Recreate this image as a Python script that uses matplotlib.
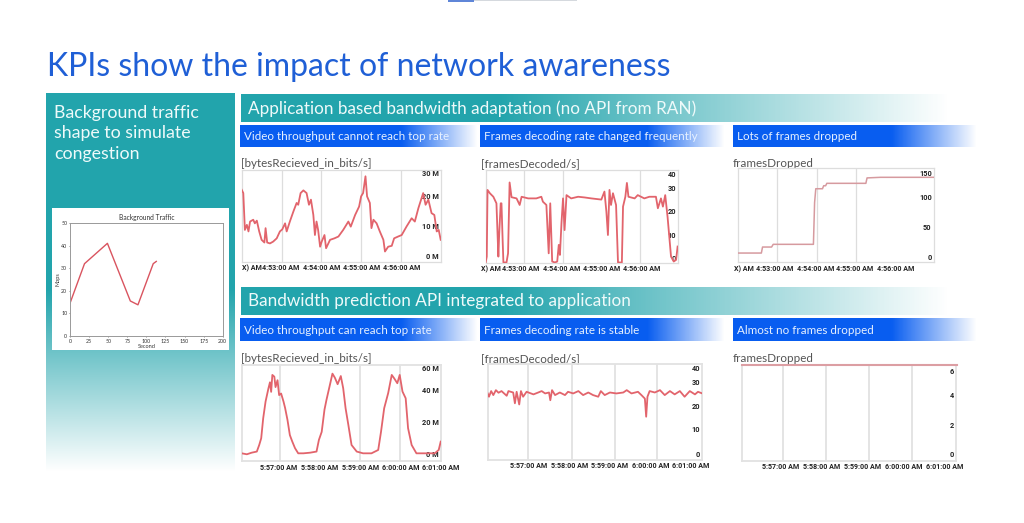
# KPI slide: background traffic panel and two rows of three small charts
import numpy as np
import matplotlib
matplotlib.use('Agg')
import matplotlib.pyplot as plt

W, H = 1024, 523
TEAL = (0.137, 0.647, 0.678)
BLUE = (0.035, 0.365, 0.945)
LINE_RED = '#e2646c'
GRID_GRAY = '#dddddd'

plt.rcParams['font.family'] = ['Lato', 'DejaVu Sans']

# Background traffic (second, Mbps)
bg_seconds = [0, 19, 49, 79, 89, 109, 113]
bg_mbps = [14.5, 32, 41, 15.5, 13.8, 32, 33]

# Top row, minutes after 4:52
bytes1_t = [0, .04, .08, .13, .17, .21, .29, .33, .38, .44, .50, .57, .60, .64, .71, .79, .88, .96,
            1.02, 1.09, 1.13, 1.21, 1.30, 1.38, 1.42, 1.48, 1.55, 1.63, 1.69, 1.74, 1.80, 1.84, 1.88, 1.92, 1.97,
            2.01, 2.08, 2.12, 2.22, 2.33, 2.43, 2.55, 2.68, 2.74, 2.85, 2.95,
            3.00, 3.05, 3.11, 3.15, 3.22, 3.26, 3.31, 3.39, 3.47, 3.56, 3.60, 3.68, 3.77, 3.83, 3.93,
            4.02, 4.14, 4.27, 4.35, 4.44, 4.56, 4.62, 4.69, 4.77, 4.84, 4.90, 4.95, 5.0]
bytes1_m = [22.1, 21.0, 8.7, 10.4, 8.2, 11.5, 12.1, 10.9, 11.8, 8.2, 5.4, 4.5, 9.3, 4.5, 4.2, 4.8, 5.9, 8.2,
            8.9, 10.9, 8.2, 11.5, 14.9, 17.7, 17.1, 21.0, 21.9, 21.0, 17.1, 18.8, 13.7, 7.0, 11.5, 8.7, 3.1,
            4.8, 7.0, 2.6, 5.4, 5.9, 6.5, 8.7, 11.5, 9.8, 13.7, 16.5,
            19.9, 21.0, 26.6, 19.9, 17.7, 9.3, 12.1, 10.9, 8.2, 5.4, 1.5, 3.1, 3.4, 5.9, 6.5,
            7.0, 9.8, 12.6, 11.5, 16.0, 21.0, 17.1, 18.8, 14.3, 13.7, 8.2, 8.7, 5.4]

decoded1_t = [0, .03, .05, .11, .20, .28, .33, .35, .39, .41, .44, .46, .54, .58, .62, .67, .80, .88, .93,
              1.10, 1.31, 1.44, 1.48, 1.57, 1.63, 1.67, 1.72, 1.79, 1.85, 1.89, 1.92, 1.96,
              2.0, 2.04, 2.09, 2.21, 2.39, 2.56, 2.73, 2.99,
              3.07, 3.12, 3.16, 3.20, 3.24, 3.29, 3.37, 3.42, 3.52, 3.55, 3.61, 3.65, 3.69, 3.85, 3.93,
              4.10, 4.23, 4.40, 4.45, 4.53, 4.58, 4.64, 4.70, 4.79, 4.86, 4.92, 4.96]
decoded1_v = [-1.9, .7, 29.1, 27.7, 26.2, 23.4, .7, 9.9, 23.4, 23.4, 7.8, -1.8, -1.8, 2.1, 32.3, 26.0, 25.5, 22.7, 26.2,
              25.5, 25.5, 26.2, 24.1, 22.7, 2.1, 23.4, -1.4, -1.8, -1.4, 5.7, 1.4, 15,
              25.5, 12, 26.9, 25.5, 26.2, 25.9, 25.5, 25.0,
              28.4, 19.9, 9.9, 29.1, 22.7, 27.7, 22.7, -1.8, -1.8, 22, 26.2, 32.1, 26.2, 25.5, 26.9,
              25.5, 26.2, 26.2, 21.3, 25.5, 22, 26.9, 17.7, .7, -1.4, -.7, 5]

dropped1_t = [0, .60, .63, .86, .90, 1.92, 1.95, 1.98, 2.15, 2.18, 2.23, 2.26, 3.25, 3.28, 3.62, 5.0]
dropped1_v = [6, 6, 16, 16, 20.5, 20.5, 90, 113, 113, 118, 118, 122, 122, 131, 132, 132]

# Bottom row, minutes after 5:56
bytes2_t = [0, .13, .25, .38, .44, .49, .54, .6, .67, .71, .74, .77, .82, .85, .9, .94, .99,
            1.05, 1.09, 1.15, 1.21, 1.27, 1.34, 1.42, 1.55, 1.72, 1.88, 1.94,
            2.01, 2.08, 2.13, 2.22, 2.28, 2.34, 2.41, 2.49, 2.55, 2.61, 2.68, 2.76, 2.89,
            3.05, 3.26, 3.43, 3.5, 3.58, 3.68, 3.77, 3.83, 3.91, 3.97,
            4.04, 4.12, 4.18, 4.27, 4.39, 4.56, 4.73, 4.85, 4.95, 5.0]
bytes2_m = [.6, 0, 1, 1.7, 5.8, 10, 22.5, 33, 41, 45, 39, 49.6, 48.5, 42, 46.3, 37, 38,
            33, 29, 21.5, 12, 8, 3.8, .6, .6, 1, 1.7, 9,
            14, 27.9, 34, 43.8, 50.4, 47.9, 43.8, 48.9, 41.3, 28.8, 18.3, 5.8, 1.7,
            .6, .6, 2.7, 14, 28.8, 38.2, 49.6, 47.5, 44.4, 49.6,
            39.2, 35, 16.3, 5.8, .6, .6, .6, .6, 2.7, 7.9]

decoded2_t = [0, .03, .08, .13, .19, .25, .32, .44, .48, .59, .63, .67, .73, .77, .82, .90,
              1.06, 1.17, 1.25, 1.33, 1.42, 1.45, 1.49, 1.56, 1.67, 1.79, 1.86, 1.98,
              2.10, 2.21, 2.33, 2.44, 2.56, 2.62, 2.71, 2.83, 2.98,
              3.14, 3.22, 3.33, 3.48, 3.56, 3.64, 3.67, 3.70, 3.75, 3.87, 3.99,
              4.10, 4.22, 4.33, 4.45, 4.56, 4.68, 4.80, 4.87, 4.97]
decoded2_v = [25.2, 23.8, 26.2, 24.5, 26.6, 25.5, 26.2, 24.2, 26.2, 25.6, 21, 25.9, 20.5, 26.2, 23.8, 25.9,
              24.8, 25.6, 26.2, 25.2, 25.6, 22.3, 26.6, 24.5, 25.6, 24.5, 25.9, 25.2,
              26.2, 24.5, 25.6, 24.5, 23.8, 26.2, 24.5, 25.6, 25.2,
              25.6, 26.6, 25.2, 25.9, 24.5, 23, 15.3, 23.8, 26.2, 25.6, 26.6,
              24.5, 26.2, 24.8, 26.2, 23.8, 26.2, 24.8, 25.9, 25.2]

dropped2_t = [0, 5]
dropped2_v = [6, 6]

# Axis labels: grid minutes, where the time labels sit, and the value labels
row1_times = ['4:53:00 AM', '4:54:00 AM', '4:55:00 AM', '4:56:00 AM']
row2_times = ['5:57:00 AM', '5:58:00 AM', '5:59:00 AM', '6:00:00 AM', '6:01:00 AM']
ylabels_bytes1 = ['0 M', '10 M', '20 M', '30 M']
ylabels_frames = ['0', '10', '20', '30', '40']
ylabels_drop1 = ['0', '50', '100', '150']
ylabels_bytes2 = ['0 M', '20 M', '40 M', '60 M']
ylabels_drop2 = ['0', '2', '4', '6']

fig = plt.figure(figsize=(W / 100, H / 100), dpi=100, facecolor='white')

# Full figure axes in pixel coordinates for the slide furniture
bg = fig.add_axes([0, 0, 1, 1])
bg.set_xlim(0, W)
bg.set_ylim(H, 0)
bg.axis('off')


def hfade(x0, x1, y0, y1, color, solid):
    # Horizontal bar, solid up to x = solid and fading to white at x1
    xs = np.linspace(x0, x1, 300)
    img = np.ones((1, 300, 4))
    img[0, :, :3] = color
    img[0, :, 3] = np.clip((x1 - xs) / (x1 - solid), 0, 1)
    bg.imshow(img, extent=(x0, x1, y1, y0), aspect='auto', interpolation='bilinear')


def vfade(x0, x1, y0, y1, color, solid):
    ys = np.linspace(y0, y1, 300)
    img = np.ones((300, 1, 4))
    img[:, 0, :3] = color
    img[:, 0, 3] = np.clip((y1 - ys) / (y1 - solid), 0, 1)
    bg.imshow(img, extent=(x0, x1, y1, y0), aspect='auto', interpolation='bilinear')


# Scrap of the slide above at the very top
bg.add_patch(plt.Rectangle((448, 0), 26, 1.5, color='#5f86d8', lw=0))
bg.add_patch(plt.Rectangle((474, 0), 103, 1, color='#d5d9de', lw=0))

bg.text(47, 76, 'KPIs show the impact of network awareness', fontsize=23,
        color='#1f5fd6', va='baseline')

# Left panel
vfade(46, 235, 93, 472, TEAL, 290)
for i, line in enumerate(['Background traffic', 'shape to simulate', 'congestion']):
    bg.text(54, 118 + i * 20.3, line, fontsize=12.8, color='#eefafa', va='baseline')
bg.add_patch(plt.Rectangle((52, 208), 177, 142, color='white', lw=0))

# Section headers
hfade(241, 950, 94, 122, TEAL, 500)
hfade(241, 950, 287, 315, TEAL, 500)
bg.text(248, 114, 'Application based bandwidth adaptation (no API from RAN)', fontsize=12.3,
        color='#eefafa', va='baseline')
bg.text(248, 306, 'Bandwidth prediction API integrated to application', fontsize=12.3,
        color='#eefafa', va='baseline')

# Blue strips and their captions
strip_x = [(240, 478, 402), (480, 725, 648), (733, 977, 892)]
strip_y = [(125, 147, 140), (318, 341, 334)]
captions = [['Video throughput cannot reach top rate', 'Frames decoding rate changed frequently', 'Lots of frames dropped'],
            ['Video throughput can reach top rate', 'Frames decoding rate is stable', 'Almost no frames dropped']]
chart_titles = ['[bytesRecieved_in_bits/s]', '[framesDecoded/s]', 'framesDropped']
for r, (y0, y1, base) in enumerate(strip_y):
    for c, (x0, x1, solid) in enumerate(strip_x):
        hfade(x0, x1, y0, y1, BLUE, solid)
        bg.text(x0 + 4, base, captions[r][c], fontsize=8.4, color='#e6f0ff', va='baseline')
        bg.text(x0 + 1 if c < 2 else x0, [167, 362][r], chart_titles[c], fontsize=8.4,
                color='#555555', va='baseline')

bg.set_xlim(0, W)
bg.set_ylim(H, 0)


def pixel_axes(left, top, right, bottom):
    return fig.add_axes([left / W, 1 - bottom / H, (right - left) / W, (bottom - top) / H])


# Background traffic chart
ax = pixel_axes(70, 223, 222.7, 336)
ax.plot(bg_seconds, bg_mbps, color='#d9545f', lw=1.0)
ax.set_xlim(0, 200)
ax.set_ylim(0, 50)
ax.set_xticks(range(0, 201, 25))
ax.set_yticks(range(0, 51, 10))
ax.tick_params(labelsize=3.8, length=1, width=0.4, pad=1, colors='#333333')
ax.set_title('Background Traffic', fontsize=4.8, pad=2, color='#333333')
ax.set_xlabel('Second', fontsize=4, labelpad=0.5, color='#333333')
ax.set_ylabel('Mbps', fontsize=4, labelpad=0.5, color='#333333')
for s in ax.spines.values():
    s.set_color('#999999')
    s.set_linewidth(0.7)


def small_chart(box, t, v, xmax, ylim, grid, label_t, times, ytick_pos, ylabels,
                color=LINE_RED, lw=1.3, edge=GRID_GRAY, edge_w=0.9, clip=True, left_label=None):
    ax = pixel_axes(*box)
    ax.plot(t, v, color=color, lw=lw, clip_on=clip, solid_joinstyle='round', zorder=3)
    ax.set_xlim(0, xmax)
    ax.set_ylim(*ylim)
    ax.set_xticks(grid, minor=True)
    ax.grid(which='minor', axis='x', color=edge, lw=edge_w)
    ax.tick_params(which='minor', length=0)
    ax.set_xticks(label_t)
    ax.set_xticklabels(times, fontsize=5.1, fontweight='bold', family='Roboto', color='#222222')
    ax.tick_params(axis='x', which='major', length=0, pad=2)
    ax.yaxis.tick_right()
    ax.set_yticks(ytick_pos)
    ax.set_yticklabels(ylabels, fontsize=5.3, fontweight='bold', family='Roboto', color='#222222', ha='right')
    ax.tick_params(axis='y', length=0, pad=-1.5)
    ax.patch.set_alpha(0)
    for s in ax.spines.values():
        s.set_color(edge)
        s.set_linewidth(edge_w)
    if left_label is not None:
        ax.annotate('X) AM', xy=(0, 0), xycoords='axes fraction', xytext=(left_label, -2),
                    textcoords='offset points', fontsize=5.1, fontweight='bold', family='Roboto',
                    color='#222222', ha='left', va='top')
    return ax


small_chart((241.7, 170, 440.7, 261.7), bytes1_t, bytes1_m, 5, (-1.9, 28.7), [1, 2, 3, 4],
            [.99, 2.01, 3.02, 4.03], row1_times, [0, 10, 20, 27.6], ylabels_bytes1, left_label=0)
small_chart((485.6, 170, 678, 262.7), decoded1_t, decoded1_v, 4.97, (-1.9, 37.6), [1, 2, 3, 4],
            [.90, 1.96, 3.0, 4.02], row1_times, [0, 10, 20, 30, 35.9], ylabels_frames, left_label=-3.5)
small_chart((737.7, 168.3, 933.7, 262.3), dropped1_t, dropped1_v, 4.97, (-9.4, 147), [1, 2, 3, 4],
            [.95, 1.97, 2.97, 4.0], row1_times, [0, 50, 100, 139], ylabels_drop1,
            color='#d69a9f', lw=1.1, left_label=-2.5)

small_chart((241.7, 365, 440.7, 461), bytes2_t, bytes2_m, 5, (-4.2, 55.8), [.96, 1.96, 2.97, 3.97],
            [.94, 1.96, 2.98, 3.99, 5.0], row2_times, [0, 20, 40, 53.8], ylabels_bytes2,
            edge='#e2e2e2', edge_w=1.3)
small_chart((487.7, 364.3, 702.3, 459.7), decoded2_t, decoded2_v, 4.97, (-3.0, 37.6), [.93, 1.95, 2.94, 3.93],
            [.94, 1.89, 2.83, 3.77, 4.71], row2_times, [-0.7, 10, 20, 30, 35.9], ylabels_frames,
            edge='#e2e2e2', edge_w=1.3)
small_chart((741.7, 365, 956.3, 460.7), dropped2_t, dropped2_v, 4.99, (-0.43, 6), [.95, 1.95, 2.96, 3.96],
            [.91, 1.86, 2.81, 3.76, 4.71], row2_times, [0, 2, 4, 5.6], ylabels_drop2,
            color='#dc9ea3', lw=1.5, edge='#e2e2e2', edge_w=1.3, clip=False)

fig.savefig('out.png', dpi=100)
